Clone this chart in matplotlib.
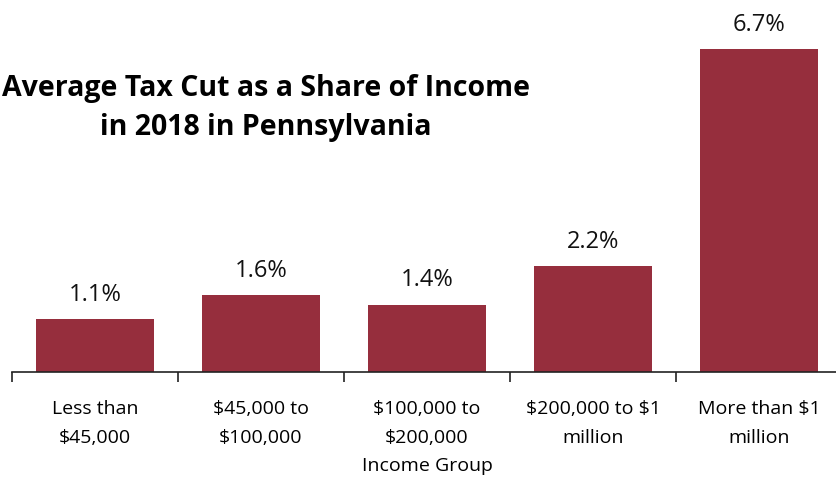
import matplotlib.pyplot as plt

plt.rcParams['font.family'] = ['Open Sans', 'DejaVu Sans']
plt.rcParams['text.parse_math'] = False

groups = ['Less than\n$45,000', '$45,000 to\n$100,000', '$100,000 to\n$200,000',
          '$200,000 to $1\nmillion', 'More than $1\nmillion']
share = [1.1, 1.6, 1.4, 2.2, 6.7]
labels = ['1.1%', '1.6%', '1.4%', '2.2%', '6.7%']

bar_color = '#962E3D'

fig = plt.figure(figsize=(8.36, 4.8), dpi=100)
ax = fig.add_axes([12 / 836, 1 - 372 / 480, 830 / 836, 360 / 480])

x = list(range(len(groups)))
ax.bar(x, share, width=0.71, color=bar_color)
for xi, v, lab in zip(x, share, labels):
    ax.text(xi, v + 0.25, lab, ha='center', va='bottom', fontsize=17, color='#111111')

ax.set_xlim(-0.5, 4.5)
ax.set_ylim(0, 360 / 48.2)
ax.set_yticks([])
ax.set_xticks([i - 0.5 for i in range(len(groups) + 1)])
ax.set_xticklabels([])
ax.set_xticks(x, minor=True)
ax.set_xticklabels(groups, minor=True, fontsize=14, linespacing=1.78)
ax.tick_params(axis='x', which='major', direction='out', length=7, width=1.2, color='#222222')
ax.tick_params(axis='x', which='minor', length=0, pad=20)

for side in ['top', 'right', 'left']:
    ax.spines[side].set_visible(False)
ax.spines['bottom'].set_linewidth(1.2)
ax.spines['bottom'].set_color('#222222')

fig.text(427 / 836, 1 - 466 / 480, 'Income Group', ha='center', va='center', fontsize=14)

fig.text(266 / 836, 1 - 108 / 480, 'Average Tax Cut as a Share of Income\nin 2018 in Pennsylvania',
         ha='center', va='center', fontsize=20.5, fontweight='bold', linespacing=1.42)

fig.savefig('out.png', dpi=100)
